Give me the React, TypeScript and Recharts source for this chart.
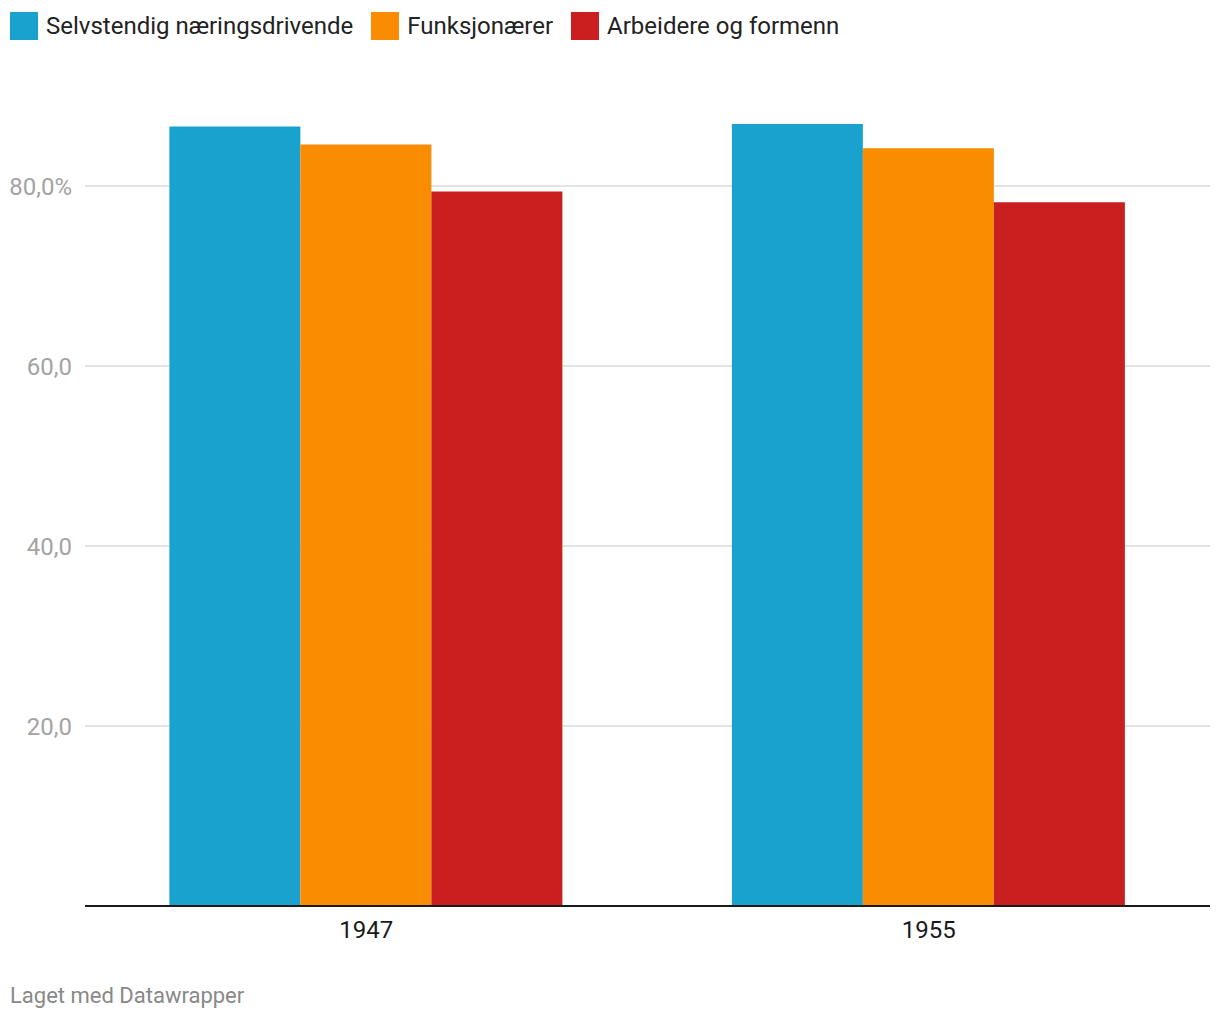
import React from "react";
import { BarChart, Bar, XAxis, YAxis, CartesianGrid } from "recharts";

const categories = ["1947", "1955"];
const seriesNames = ["Selvstendig næringsdrivende", "Funksjonærer", "Arbeidere og formenn"];
const seriesKeys = ["selv", "funk", "arb"];
const seriesColors = ["#1aa2cf", "#f98c00", "#c91f1f"];
const selvValues = [86.6, 86.9];
const funkValues = [84.6, 84.2];
const arbValues = [79.4, 78.2];
const yTicks = [20, 40, 60, 80];
const yTickLabels = ["20,0", "40,0", "60,0", "80,0%"];
const footer = "Laget med Datawrapper";

const data = categories.map((c, i) => ({
  year: c,
  selv: selvValues[i],
  funk: funkValues[i],
  arb: arbValues[i],
}));

const FONT = "Roboto, 'Noto Sans', sans-serif";

export default function App() {
  return (
    <div style={{ position: "relative", width: 1220, height: 1020, background: "#fff", fontFamily: FONT }}>
      <style>{`body{margin:0;}`}</style>
      <div style={{ position: "absolute", left: 10, top: 12, display: "flex", alignItems: "center", height: 28 }}>
        {seriesNames.map((n, i) => (
          <div key={n} style={{ display: "flex", alignItems: "center", marginRight: 18 }}>
            <div style={{ width: 28, height: 28, background: seriesColors[i], marginRight: 8 }} />
            <span style={{ fontSize: 24, color: "#222", lineHeight: "28px", whiteSpace: "nowrap" }}>{n}</span>
          </div>
        ))}
      </div>
      <div style={{ position: "absolute", left: 0, top: 0 }}>
        <BarChart
          width={1220}
          height={960}
          data={data}
          margin={{ top: 96, right: 10, left: 0, bottom: 14 }}
          barGap={0}
          barCategoryGap="15%"
        >
          <CartesianGrid
            horizontal
            vertical={false}
            stroke="#e3e3e3"
            strokeWidth={2}
            horizontalValues={yTicks}
          />
          <XAxis
            dataKey="year"
            height={40}
            tickLine={false}
            tickSize={0}
            tickMargin={15}
            axisLine={{ stroke: "#1a1a1a", strokeWidth: 2 }}
            tick={{ fill: "#1a1a1a", fontSize: 24, fontFamily: FONT }}
          />
          <YAxis
            width={85}
            domain={[0, 90]}
            ticks={yTicks}
            interval={0}
            axisLine={false}
            tickLine={false}
            tickSize={0}
            tickMargin={13}
            tickFormatter={(v: number) => yTickLabels[yTicks.indexOf(v)] ?? ""}
            tick={{ fill: "#a3a3a3", fontSize: 24, fontFamily: FONT }}
          />
          {seriesKeys.map((k, i) => (
            <Bar key={k} dataKey={k} fill={seriesColors[i]} isAnimationActive={false} />
          ))}
        </BarChart>
      </div>
      <div style={{ position: "absolute", left: 10, top: 985, fontSize: 22, lineHeight: 1, color: "#888", fontFamily: FONT, whiteSpace: "nowrap" }}>
        {footer}
      </div>
    </div>
  );
}
